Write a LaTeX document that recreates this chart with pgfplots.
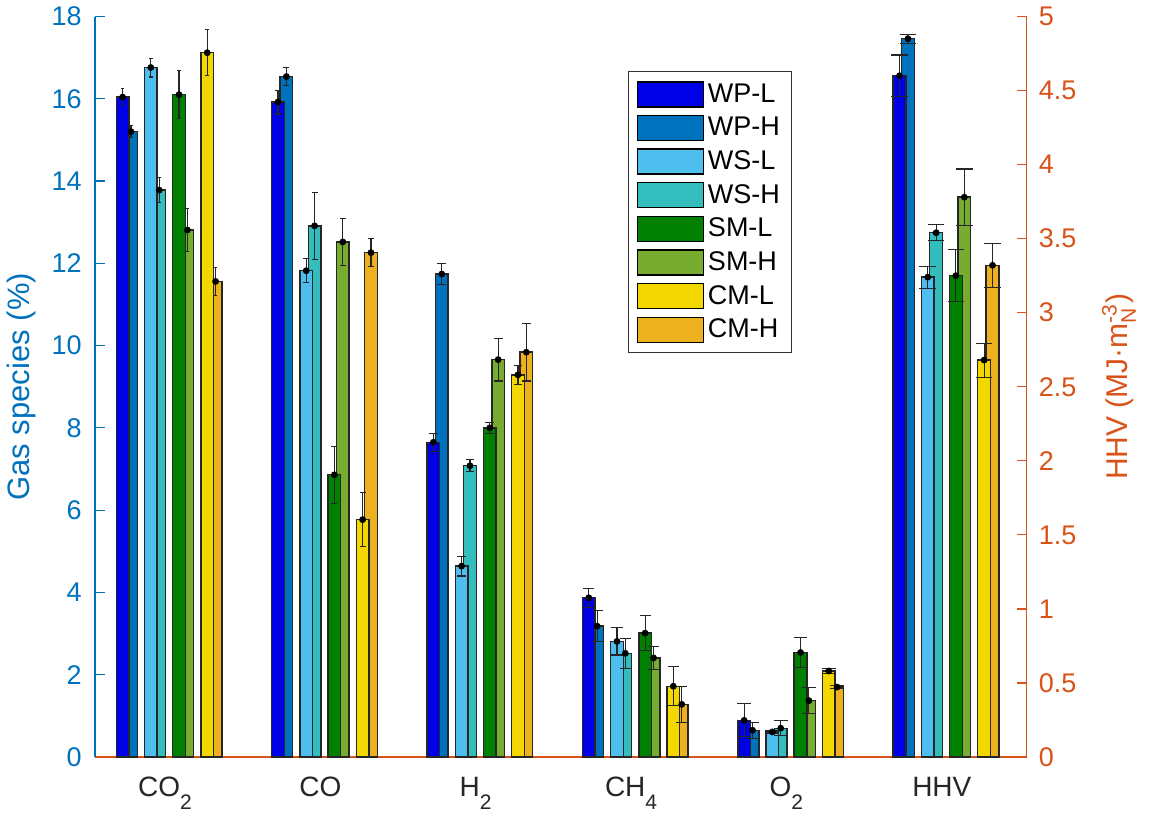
\documentclass[border=0pt]{standalone}
\usepackage{fontspec}
\setmainfont{Liberation Sans}
\usepackage{amsmath}
\usepackage{pgfplots}
\usepackage{pgfplotstable}
\pgfplotsset{compat=1.18}

% series colours
\definecolor{wpl}{RGB}{0,0,230}
\definecolor{wph}{RGB}{0,114,189}
\definecolor{wsl}{RGB}{77,190,238}
\definecolor{wsh}{RGB}{51,189,189}
\definecolor{sml}{RGB}{0,128,0}
\definecolor{smh}{RGB}{119,172,48}
\definecolor{cml}{RGB}{242,215,0}
\definecolor{cmh}{RGB}{237,177,32}
% axis colours
\definecolor{axblue}{RGB}{0,114,189}
\definecolor{axorange}{RGB}{217,83,25}
\definecolor{labgray}{RGB}{38,38,38}

% gas composition (%), value and error for each series
\pgfplotstableread{
g  wpl   wplE  wph   wphE  wsl   wslE  wsh   wshE  sml   smlE  smh   smhE  cml   cmlE  cmh   cmhE
1  16.04 0.20  15.20 0.14  16.76 0.23  13.78 0.30  16.10 0.58  12.81 0.52  17.12 0.56  11.56 0.34
2  15.92 0.29  16.54 0.22  11.82 0.29  12.91 0.81  6.86  0.69  12.52 0.57  5.77  0.65  12.26 0.34
3  7.65  0.22  11.74 0.26  4.64  0.24  7.08  0.15  8.00  0.14  9.66  0.52  9.29  0.23  9.84  0.70
4  3.87  0.23  3.18  0.38  2.81  0.33  2.52  0.37  3.01  0.42  2.41  0.28  1.72  0.47  1.28  0.44
5  0.89  0.40  0.65  0.19  0.61  0.03  0.70  0.18  2.54  0.36  1.37  0.32  2.09  0.07  1.70  0.03
}\gas

% higher heating value (MJ m^-3), value and error for each series
\pgfplotstableread{
g  wpl   wplE  wph   wphE  wsl   wslE  wsh   wshE  sml   smlE  smh   smhE  cml   cmlE  cmh   cmhE
6  4.60  0.14  4.85  0.03  3.24  0.075 3.54  0.055 3.25  0.176 3.78  0.19  2.68  0.115 3.32  0.15
}\hhv

\newcommand\sub[1]{\raisebox{-6.5pt}{\fontsize{10.5}{10.5}\selectfont #1}}
\newcommand\tickfont{\fontsize{13.5}{15}\selectfont}

\pgfplotsset{
  common/.style={
    width=465.75pt, height=370.25pt, scale only axis,
    xmin=0.55, xmax=6.545,
    tick align=inside, major tick length=5pt,
    /pgf/number format/assume math mode=true,
    clip=false,
  },
  bars/.style={ybar, bar width=0.0817, bar shift=0pt, draw=black!85,
    line width=0.7pt, forget plot},
  errs/.style={only marks, mark=*, mark size=1.5pt, black, forget plot,
    error bars/y dir=both, error bars/y explicit,
    error bars/error bar style={line width=0.55pt, black!85}},
  swatch/.style={legend image code/.code={%
    \draw[##1, line width=0.6pt] (0pt,-6.25pt) rectangle (33pt,6.25pt);}},
}

% error bars of one series, group by group (the caps widen from left to right)
\newcommand\errgroup[4]{% table, x offset, value column, error column
  \pgfplotsinvokeforeach{1,...,6}{%
    \addplot[errs, x filter/.expression={abs(x-##1)<0.5 ? x : nan},
      error bars/error mark options={rotate=90, line width=0.55pt, black!85,
        mark size={(0.225+0.65*##1)*1pt}}]
      table[x expr=\thisrow{g}+#2, y=#3, y error=#4]{#1};
  }%
}

% H bars sit behind the L bars; error bars and dots go on top of all bars
\newcommand\drawgroup[1]{%
  \addplot[bars, fill=wph] table[x expr=\thisrow{g}-0.2182, y=wph]{#1};
  \addplot[bars, fill=wsh] table[x expr=\thisrow{g}-0.0367, y=wsh]{#1};
  \addplot[bars, fill=smh] table[x expr=\thisrow{g}+0.1447, y=smh]{#1};
  \addplot[bars, fill=cmh] table[x expr=\thisrow{g}+0.3262, y=cmh]{#1};
  \addplot[bars, fill=wpl] table[x expr=\thisrow{g}-0.2722, y=wpl]{#1};
  \addplot[bars, fill=wsl] table[x expr=\thisrow{g}-0.0907, y=wsl]{#1};
  \addplot[bars, fill=sml] table[x expr=\thisrow{g}+0.0907, y=sml]{#1};
  \addplot[bars, fill=cml] table[x expr=\thisrow{g}+0.2722, y=cml]{#1};
  \errgroup{#1}{-0.2182}{wph}{wphE}
  \errgroup{#1}{-0.0367}{wsh}{wshE}
  \errgroup{#1}{0.1447}{smh}{smhE}
  \errgroup{#1}{0.3262}{cmh}{cmhE}
  \errgroup{#1}{-0.2722}{wpl}{wplE}
  \errgroup{#1}{-0.0907}{wsl}{wslE}
  \errgroup{#1}{0.0907}{sml}{smlE}
  \errgroup{#1}{0.2722}{cml}{cmlE}
}

\begin{document}
\begin{tikzpicture}
% left axis: gas species
\begin{axis}[common,
  ymin=0, ymax=18, ytick={0,2,...,18},
  axis x line*=bottom, axis y line*=left,
  x axis line style={axorange, line width=0.6pt},
  y axis line style={axblue, line width=0.6pt},
  xtick={1,2,3,4,5,6},
  xticklabels={CO\sub{2}, CO, H\sub{2}, CH\sub{4}, O\sub{2}, HHV},
  xtick style={draw=none},
  xticklabel style={labgray, font=\fontsize{14}{16}\selectfont, anchor=base, yshift=-19.5pt},
  ytick style={axblue, line width=0.6pt},
  yticklabel style={axblue, font=\tickfont, inner xsep=0pt, xshift=-6.5pt},
  ylabel={Gas species (\%)},
  ylabel style={axblue, font=\fontsize{15.5}{18}\selectfont,
    at={(axis description cs:-0.0784,0.5)}, anchor=center},
]
\drawgroup{\gas}
\end{axis}

% right axis: heating value
\begin{axis}[common,
  ymin=0, ymax=5, ytick={0,0.5,1,1.5,2,2.5,3,3.5,4,4.5,5},
  axis x line=none, axis y line*=right,
  y axis line style={axorange, line width=0.6pt},
  ytick style={axorange, line width=0.6pt},
  yticklabel style={axorange, font=\tickfont, inner xsep=0pt, xshift=6pt},
  ylabel={HHV (MJ·m$^{\text{-3}}_{\text{N}}$)},
  ylabel style={axorange, font=\fontsize{15}{18}\selectfont,
    at={(axis description cs:1.0993,0.5)}, anchor=center},
  legend style={at={(0.5725,0.926)}, anchor=north west, draw=black!80,
    line width=0.5pt, fill=white, font=\tickfont, inner xsep=4pt, inner ysep=4pt,
    row sep=1.9pt, cells={anchor=west}},
  legend cell align=left,
]
\addlegendimage{swatch, fill=wpl, draw=black}
\addlegendentry{WP-L}
\addlegendimage{swatch, fill=wph, draw=black}
\addlegendentry{WP-H}
\addlegendimage{swatch, fill=wsl, draw=black}
\addlegendentry{WS-L}
\addlegendimage{swatch, fill=wsh, draw=black}
\addlegendentry{WS-H}
\addlegendimage{swatch, fill=sml, draw=black}
\addlegendentry{SM-L}
\addlegendimage{swatch, fill=smh, draw=black}
\addlegendentry{SM-H}
\addlegendimage{swatch, fill=cml, draw=black}
\addlegendentry{CM-L}
\addlegendimage{swatch, fill=cmh, draw=black}
\addlegendentry{CM-H}
\drawgroup{\hhv}
\end{axis}
\pgfresetboundingbox
\path[use as bounding box] (-47.5pt,-29pt) rectangle (528pt,378.5pt);
\end{tikzpicture}
\end{document}
